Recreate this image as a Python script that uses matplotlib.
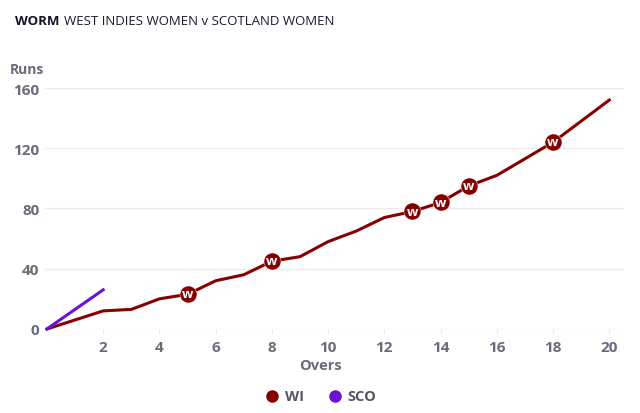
import matplotlib.pyplot as plt
from matplotlib.lines import Line2D

# worm data (cumulative runs at end of each over)
wi_overs = list(range(0, 21))
wi_runs = [0, 6, 12, 13, 20, 23, 32, 36, 45, 48, 58, 65, 74, 78, 84, 95, 102, 113, 124, 138, 152]
wi_wkt_overs = [5, 8, 13, 14, 15, 18]

sco_overs = [0, 1, 2]
sco_runs = [0, 13, 26]

wi_col = "#870000"
sco_col = "#6a12d4"
grey = "#6b6b7b"

plt.rcParams['font.family'] = ['Open Sans', 'DejaVu Sans']

fig = plt.figure(figsize=(6.4, 4.14), dpi=100)
ax = fig.add_axes([0.0703, 0.203, 0.905, 0.582])

ax.plot(wi_overs, wi_runs, color=wi_col, lw=2.2, zorder=3, clip_on=False)
ax.plot(sco_overs, sco_runs, color=sco_col, lw=2.2, zorder=3, clip_on=False)

wk_runs = [wi_runs[wi_overs.index(o)] for o in wi_wkt_overs]
ax.scatter(wi_wkt_overs, wk_runs, s=150, color=wi_col, edgecolors="white",
           linewidths=0.3, zorder=5, clip_on=False)
for o, r in zip(wi_wkt_overs, wk_runs):
    ax.text(o, r + 0.3, "w", color="white", fontsize=9.5, fontweight="bold",
            ha="center", va="center", zorder=6)

ax.set_xlim(-0.07, 20.53)
ax.set_ylim(0, 160)
ax.set_xticks(range(2, 21, 2))
ax.set_yticks([0, 40, 80, 120, 160])
ax.grid(axis="y", color="#ececec", lw=1)
ax.set_axisbelow(True)
for s in ax.spines.values():
    s.set_visible(False)
ax.tick_params(length=0, labelcolor=grey, labelsize=11)
ax.tick_params(axis="x", length=3, color="#e6e6e6", pad=5)
ax.tick_params(axis="y", pad=4)
for lab in ax.get_xticklabels() + ax.get_yticklabels():
    lab.set_fontweight("bold")

fig.text(0.016, 0.83, "Runs", color=grey, fontsize=10, fontweight="bold", va="center")
fig.text(0.5, 0.115, "Overs", color=grey, fontsize=10.5, fontweight="bold", ha="center", va="center")

fig.text(0.023, 0.948, "WORM", color="#141428", fontsize=9.5, fontweight="bold", va="center")
fig.text(0.1, 0.948, "WEST INDIES WOMEN v SCOTLAND WOMEN", color="#1a1a2e", fontsize=9.5, va="center")

handles = [Line2D([], [], marker="o", ls="", color=wi_col, markersize=8, label="WI"),
           Line2D([], [], marker="o", ls="", color=sco_col, markersize=8, label="SCO")]
leg = fig.legend(handles=handles, loc="center", bbox_to_anchor=(0.5, 0.04), ncol=2,
                 frameon=False, handletextpad=0.3, columnspacing=1.6, handlelength=1.2)
for t in leg.get_texts():
    t.set_color("#555566")
    t.set_fontweight("bold")
    t.set_fontsize(10.5)

fig.savefig("out.png", dpi=100)
